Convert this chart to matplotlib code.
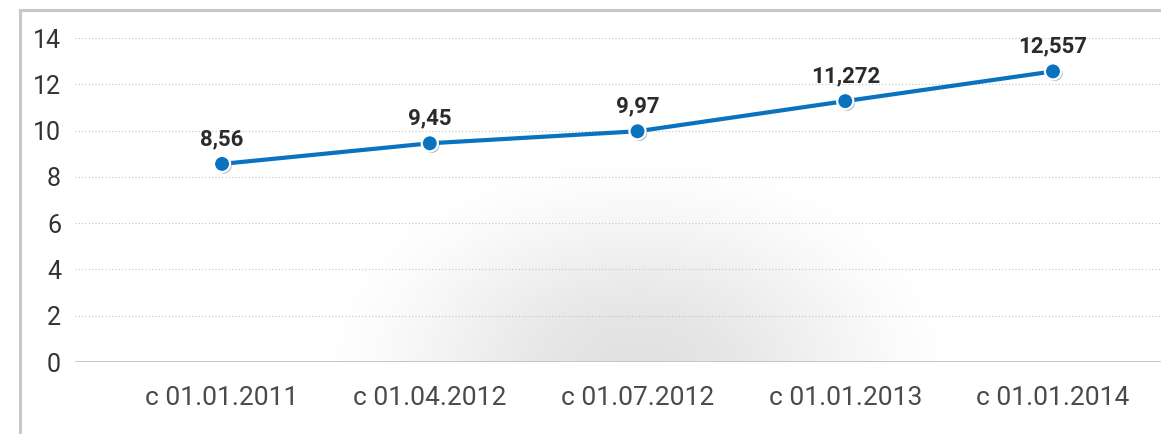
import numpy as np
import matplotlib
matplotlib.use("Agg")
import matplotlib.pyplot as plt
from matplotlib.lines import Line2D
import matplotlib.patheffects as pe

plt.rcParams["font.family"] = ["Roboto", "DejaVu Sans"]

categories = ["с 01.01.2011", "с 01.04.2012", "с 01.07.2012", "с 01.01.2013", "с 01.01.2014"]
values = [8.56, 9.45, 9.97, 11.272, 12.557]
value_labels = ["8,56", "9,45", "9,97", "11,272", "12,557"]
y_ticks = [0, 2, 4, 6, 8, 10, 12, 14]

W, H = 1161, 434
fig = plt.figure(figsize=(W / 100, H / 100), dpi=100)
fig.patch.set_facecolor("white")

# axes: left at x=75, zero line at y=362, 14 at y=38
ax = fig.add_axes([75 / W, (H - 362) / H, (W - 75) / W, (362 - 38) / H])
ax.set_facecolor("none")

x = np.arange(len(categories))
ax.set_xlim(-0.708, 4.52)
ax.set_ylim(0, 14)

# soft gray radial shadow under the chart
gx = np.linspace(-0.708, 4.52, 400)
gy = np.linspace(0, 14, 200)
GX, GY = np.meshgrid(gx, gy)
r = np.sqrt(((GX - 2.0) / 1.7) ** 2 + ((GY + 0.5) / 10.5) ** 2)
t = np.clip(1 - r, 0, 1)
alpha = t * t * (3 - 2 * t) * 0.12
img = np.zeros((200, 400, 4))
img[..., 3] = alpha
ax.imshow(img, extent=(-0.708, 4.52, 0, 14), origin="lower", aspect="auto", zorder=0)

for yt in y_ticks[1:]:
    ax.axhline(yt, color="#c4c4c4", lw=0.8, ls=(0, (1, 2)), zorder=1)
ax.axhline(0, color="#c3c3c3", lw=2, zorder=2)

ax.plot(x, values, color="#0b72bf", lw=3, zorder=3, solid_capstyle="round")
ax.scatter(x, values, s=135, color="#0b72bf", edgecolor="white", linewidth=1.6, zorder=4,
           path_effects=[pe.SimplePatchShadow(offset=(1.2, -1.2), alpha=0.3), pe.Normal()])

for xi, v, lab in zip(x, values, value_labels):
    ax.annotate(lab, (xi, v), xytext=(0, 10), textcoords="offset points",
                ha="center", va="bottom", fontsize=16, color="#2b2b2b", fontweight="bold")

ax.set_xticks(x)
ax.set_xticklabels(categories, fontsize=19, color="#4a4a4a")
ax.set_yticks(y_ticks)
ax.set_yticklabels([str(v) for v in y_ticks], fontsize=18, color="#333333")
ax.tick_params(axis="both", length=0)
ax.tick_params(axis="x", pad=17)
ax.tick_params(axis="y", pad=10)
for s in ax.spines.values():
    s.set_visible(False)

# outer frame (left and top edges)
fig.add_artist(Line2D([20 / W, 20 / W], [0, 1 - 10 / H], color="#c8c8c8", lw=2.2))
fig.add_artist(Line2D([20 / W, 1], [1 - 10 / H, 1 - 10 / H], color="#c8c8c8", lw=2.2))

fig.savefig("out.png", dpi=100)
